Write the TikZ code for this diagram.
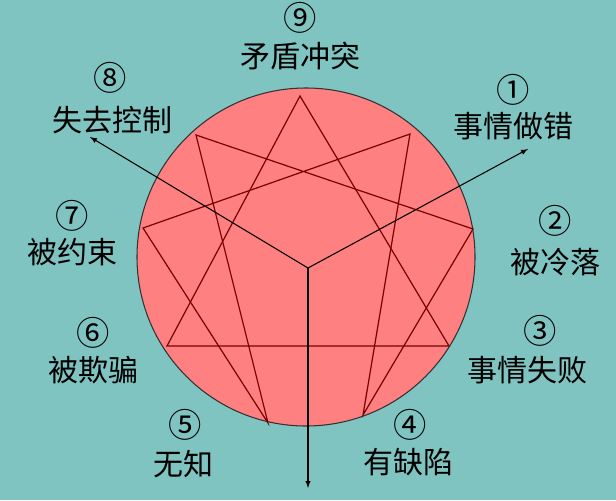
\documentclass[tikz,border=0pt]{standalone}
\usepackage{fontspec}
\newfontfamily\cjk{Noto Sans CJK SC}
\usetikzlibrary{arrows}
\definecolor{bgteal}{RGB}{128,196,194}
\definecolor{disc}{RGB}{255,128,128}
\definecolor{starline}{RGB}{120,0,0}
\newcommand{\typelabel}[5]{\node [num] (num#1) at (#2) {#3}; \node [word] (word#1) at (#4) {#5};}

\begin{document}
\begin{tikzpicture}[x=0.75pt, y=-0.75pt,
 every node/.style={font=\cjk\fontsize{22.5}{26}\selectfont, inner sep=0pt},
 num/.style={font=\cjk\fontsize{25}{28}\selectfont}, word/.style={},
 star/.style={draw=starline, line width=0.9pt},
 pointer/.style={-latex, draw=black, line width=0.8pt}]

 \fill [bgteal] (0,0) rectangle (616,500);
 \useasboundingbox (0,0) rectangle (616,500);

 \filldraw [fill=disc, draw=black!80, line width=0.8pt] (306,257) circle [radius=169];

 \coordinate (p9) at (300,96);
 \coordinate (p1) at (410,134);
 \coordinate (p2) at (473,229);
 \coordinate (p3) at (449,346);
 \coordinate (p4) at (363,415);
 \coordinate (p5) at (268,423);
 \coordinate (p6) at (167,346);
 \coordinate (p7) at (143,228);
 \coordinate (p8) at (196,135);
 \coordinate (hub) at (308,268);

 \path [star] (p9) -- (p3) -- (p6) -- cycle;
 \path [star] (p1) -- (p4) -- (p2) -- (p8) -- (p5) -- (p7) -- cycle;

 \coordinate (tip8) at (90,137);
 \coordinate (tip1) at (528,149);
 \coordinate (tip0) at (308,488);
 \path [pointer] (hub) -- (tip8);
 \path [pointer] (hub) -- (tip1);
 \path [pointer] (hub) -- (tip0);

 \typelabel{9}{300,18}{⑨}{300,56}{矛盾冲突}
 \typelabel{8}{110,78}{⑧}{112,120}{失去控制}
 \typelabel{1}{513,90}{①}{513,126}{事情做错}
 \typelabel{2}{555,221}{②}{555,262}{被冷落}
 \typelabel{3}{540,331}{③}{527,370}{事情失败}
 \typelabel{4}{410,425}{④}{408,462}{有缺陷}
 \typelabel{5}{185,425}{⑤}{183,464}{无知}
 \typelabel{7}{72,216}{⑦}{72,252}{被约束}
 \typelabel{6}{93,333}{⑥}{93,370}{被欺骗}
\end{tikzpicture}
\end{document}
